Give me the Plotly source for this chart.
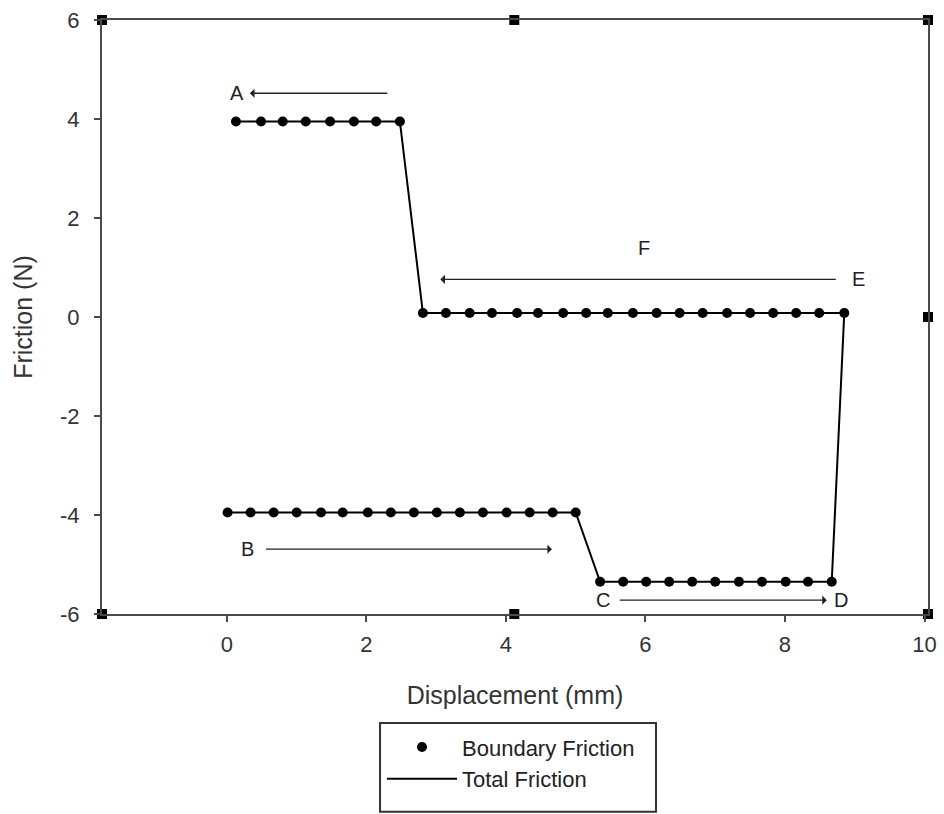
import plotly.graph_objects as go

# Displacement (mm) of each sampled point, per stroke segment
disp_b = [0.01, 0.34, 0.67, 1.00, 1.35, 1.66, 2.02, 2.35, 2.68, 3.01, 3.34, 3.67, 4.01, 4.34, 4.67, 5.00]
disp_c = [5.35, 5.68, 6.01, 6.34, 6.67, 7.00, 7.34, 7.67, 8.01, 8.33, 8.67]
disp_e = [8.85, 8.49, 8.16, 7.83, 7.50, 7.17, 6.82, 6.49, 6.16, 5.82, 5.46, 5.15, 4.82, 4.46, 4.16, 3.80, 3.48, 3.14, 2.81]
disp_a = [2.48, 2.14, 1.82, 1.48, 1.13, 0.80, 0.49, 0.13]

# Friction level (N) of each segment
fric_b = -3.95
fric_c = -5.35
fric_e = 0.08
fric_a = 3.95

# Frame corner markers
frame_x = [-1.79, 4.12, 10.05, -1.79, 4.12, 10.05, 10.05]
frame_y = [6, 6, 6, -6, -6, -6, 0]

x_ticks = [0, 2, 4, 6, 8, 10]
y_ticks = [-6, -4, -2, 0, 2, 4, 6]
y_tick_text = ["-6", "-4", "-2", "0", "2", "4", "6"]

# Stroke labels and arrows: (label, label x, label y, tail x, head x, arrow y)
arrows = [
    ("A", 0.14, 4.52, 2.32, 0.33, 4.52),
    ("E", 9.06, 0.76, 8.75, 3.06, 0.76),
    ("B", 0.29, -4.69, 0.54, 4.66, -4.69),
    ("C", 5.39, -5.72, 5.61, 8.60, -5.72),
]
extra_labels = [("F", 5.98, 1.40), ("D", 8.80, -5.72)]

x_all = disp_b + disp_c + disp_e + disp_a
y_all = ([fric_b] * len(disp_b) + [fric_c] * len(disp_c)
         + [fric_e] * len(disp_e) + [fric_a] * len(disp_a))

FONT = "Liberation Sans, Arial, sans-serif"
INK = "#222222"
AXIS = "#4a4a4a"

fig = go.Figure()

fig.add_trace(go.Scatter(
    x=x_all, y=y_all, mode="markers", name="Boundary Friction",
    marker=dict(symbol="circle", size=10, color="black"),
    legendgroup="b",
))
fig.add_trace(go.Scatter(
    x=x_all, y=y_all, mode="lines", name="Total Friction",
    line=dict(color="black", width=2),
    legendgroup="t",
))
fig.add_trace(go.Scatter(
    x=frame_x, y=frame_y, mode="markers", showlegend=False,
    marker=dict(symbol="square", size=10, color="black"),
    cliponaxis=False, hoverinfo="skip",
))

annotations = []
for label, lx, ly, tx, hx, ay in arrows:
    annotations.append(dict(
        x=hx, y=ay, ax=tx, ay=ay, xref="x", yref="y", axref="x", ayref="y",
        showarrow=True, arrowhead=1, arrowsize=1.1, arrowwidth=1.4,
        arrowcolor=INK, text="",
    ))
    annotations.append(dict(
        x=lx, y=ly, xref="x", yref="y", text=label, showarrow=False,
        font=dict(family=FONT, size=20, color=INK),
    ))
for label, lx, ly in extra_labels:
    annotations.append(dict(
        x=lx, y=ly, xref="x", yref="y", text=label, showarrow=False,
        font=dict(family=FONT, size=20, color=INK),
    ))

axis_common = dict(
    showline=True, linecolor=AXIS, linewidth=2, mirror=True,
    ticks="outside", ticklen=6, tickwidth=1.5, tickcolor=AXIS,
    showgrid=False, zeroline=False, automargin=False,
    tickfont=dict(family=FONT, size=22, color="#333333"),
)

# Legend frame drawn as a paper-space rectangle
legend_box = dict(
    type="rect", xref="paper", yref="paper",
    x0=0.3366, x1=0.6707, y0=-0.333, y1=-0.1835,
    line=dict(color="#333333", width=2), fillcolor="white", layer="below",
)

fig.update_layout(
    width=944, height=814,
    margin=dict(l=102, r=16, t=20, b=200, autoexpand=False),
    paper_bgcolor="white", plot_bgcolor="white",
    xaxis=dict(
        range=[-1.79, 10.05], tickvals=x_ticks, ticklabelstandoff=4,
        title=dict(text="Displacement (mm)", standoff=30,
                   font=dict(family=FONT, size=25, color="#333333")),
        **axis_common,
    ),
    yaxis=dict(
        range=[-6, 6], tickvals=y_ticks, ticktext=y_tick_text,
        ticklabelstandoff=10,
        title=dict(text="Friction (N)", standoff=20,
                   font=dict(family=FONT, size=25, color="#333333")),
        **axis_common,
    ),
    legend=dict(
        x=0.339, y=-0.189, xanchor="left", yanchor="top",
        borderwidth=0, bgcolor="rgba(0,0,0,0)",
        font=dict(family=FONT, size=22, color="#222222"),
        itemwidth=70, tracegroupgap=0,
    ),
    shapes=[legend_box],
    annotations=annotations,
    showlegend=True,
)

fig.write_html("out.html")
